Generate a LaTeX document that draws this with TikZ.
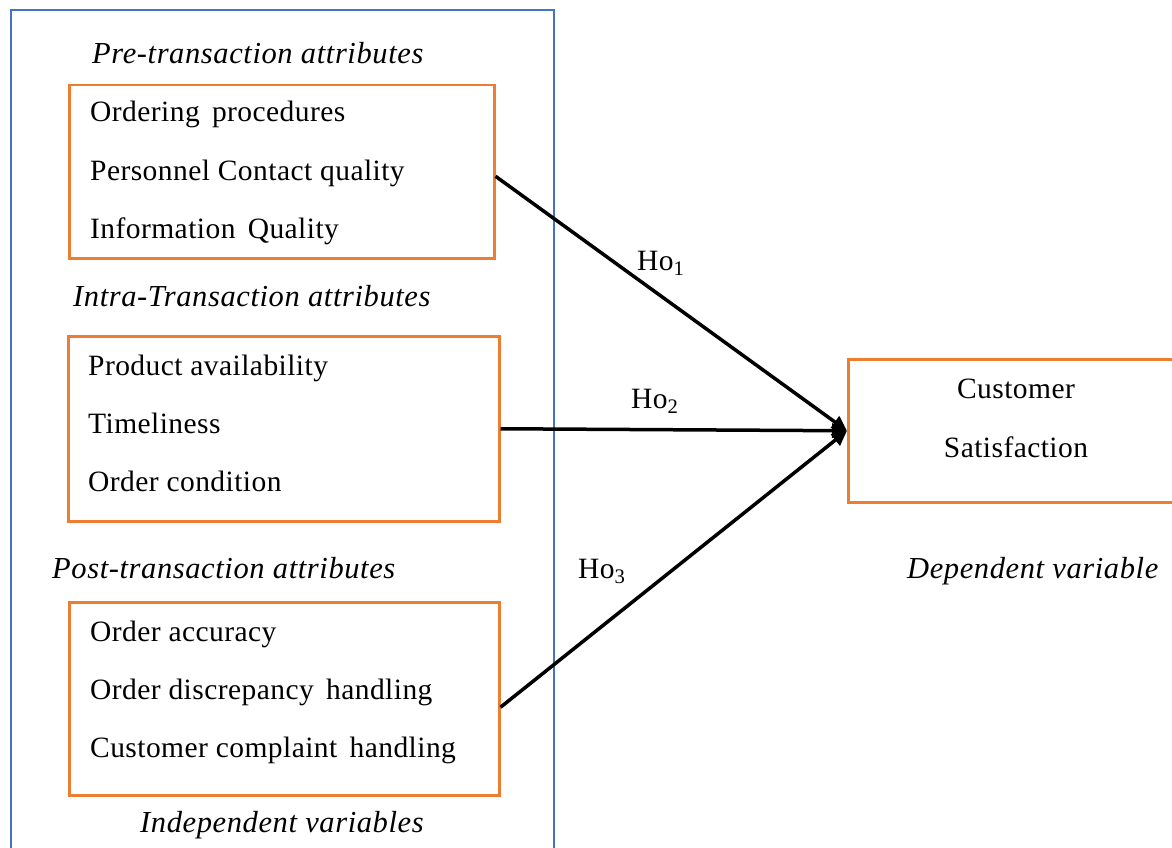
\documentclass[tikz,border=0pt]{standalone}
\usepackage{fontspec}
\setmainfont{Liberation Serif}
\usetikzlibrary{arrows.meta}
\definecolor{frameblue}{HTML}{4472C4}
\definecolor{boxorange}{HTML}{ED7D31}
\tikzset{
  bframe/.style={draw=frameblue, line width=2.2pt, rectangle, inner sep=0pt, anchor=north west},
  obox/.style={draw=boxorange, line width=2.5pt, rectangle, inner sep=0pt, anchor=north west},
  txt/.style={anchor=base west, inner sep=0pt, font=\fontsize{29.5}{35}\selectfont\addfontfeatures{LetterSpace=1.5}},
  itxt/.style={txt, font=\fontsize{30.5}{36}\selectfont\itshape\addfontfeatures{LetterSpace=2}},
  ctxt/.style={txt, anchor=base},
  arr/.style={line width=3.5pt, -{Triangle[length=15pt,width=14pt]}}
}
\begin{document}
\begin{tikzpicture}[x=1pt,y=-1pt]
\useasboundingbox (0,0) rectangle (1172,848);
% frame of independent variables
\node[bframe, minimum width=543, minimum height=870] (frame) at (10,9) {};
% orange boxes
\node[obox, minimum width=425, minimum height=173] (b1) at (68,84) {};
\node[obox, minimum width=431, minimum height=185] (b2) at (67,335) {};
\node[obox, minimum width=430, minimum height=193] (b3) at (68,601) {};
\node[obox, minimum width=345, minimum height=143] (cs) at (847,358) {};
% headings
\node[itxt] (h1) at (92,64) {Pre-transaction attributes};
\node[itxt] (h2) at (73,306) {Intra-Transaction attributes};
\node[itxt] (h3) at (52,578) {Post-transaction attributes};
\node[itxt] (h4) at (140,832) {Independent variables};
\node[itxt] (h5) at (907,578) {Dependent variable};
% items
\node[txt] (p1) at (90,122) {Ordering\hspace{0.15em} procedures};
\node[txt] (p2) at (90,180) {Personnel Contact quality};
\node[txt] (p3) at (90,238) {Information\hspace{0.15em} Quality};
\node[txt] (i1) at (88,375) {Product availability};
\node[txt] (i2) at (88,433) {Timeliness};
\node[txt] (i3) at (88,491) {Order condition};
\node[txt] (q1) at (90,641) {Order accuracy};
\node[txt] (q2) at (90,699) {Order discrepancy\hspace{0.15em} handling};
\node[txt] (q3) at (90,757) {Customer complaint\hspace{0.15em} handling};
\node[ctxt] (c1) at (1016,398) {Customer};
\node[ctxt] (c2) at (1016,457) {Satisfaction};
% hypotheses
\node[txt] (ho1) at (637,270) {Ho\textsubscript{1}};
\node[txt] (ho2) at (631,408) {Ho\textsubscript{2}};
\node[txt] (ho3) at (578,578) {Ho\textsubscript{3}};
% connectors
\draw[arr] ([yshift=-4.5pt]b1.east) -- (cs.west);
\draw[arr] (b2.east) -- (cs.west);
\draw[arr] ([yshift=-8.5pt]b3.east) -- (cs.west);
\end{tikzpicture}
\end{document}
